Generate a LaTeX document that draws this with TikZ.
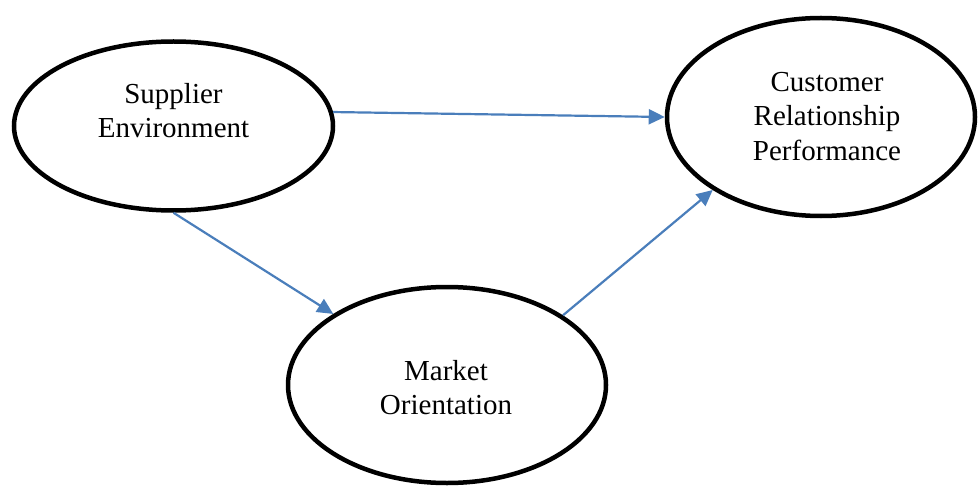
\documentclass[tikz,border=0pt]{standalone}
\usepackage{fontspec}
\setmainfont{Liberation Serif}
\usetikzlibrary{shapes.geometric,arrows.meta}
\definecolor{arrowblue}{HTML}{4A7EBB}
\begin{document}
\begin{tikzpicture}[x=1pt,y=1pt,
  oval/.style={draw=black, line width=4.5pt, ellipse, inner sep=0pt},
  lbl/.style={align=center, inner sep=0pt, font=\fontsize{29}{34.5}\selectfont},
  link/.style={draw=arrowblue, line width=2.2pt, -{Triangle[length=16pt,width=15pt]}}]
\useasboundingbox (0,0) rectangle (979,488);
\node[oval, minimum width=319pt, minimum height=169pt] (se) at (173.5,362) {};
\node[oval, minimum width=308pt, minimum height=198pt] (cr) at (821,371) {};
\node[oval, minimum width=318pt, minimum height=196pt] (mo) at (447,103) {};
\node[lbl] (set) at (173.5,377.3) {Supplier\\Environment};
\node[lbl] (crt) at (827,371.6) {Customer\\Relationship\\Performance};
\node[lbl] (mot) at (446,100.3) {Market\\Orientation};
\draw[link] (se.5) -- (cr.180);
\draw[link] (se.270) -- (mo.148.5);
\draw[link] (mo.31.8) -- (cr.214.8);
\end{tikzpicture}
\end{document}
